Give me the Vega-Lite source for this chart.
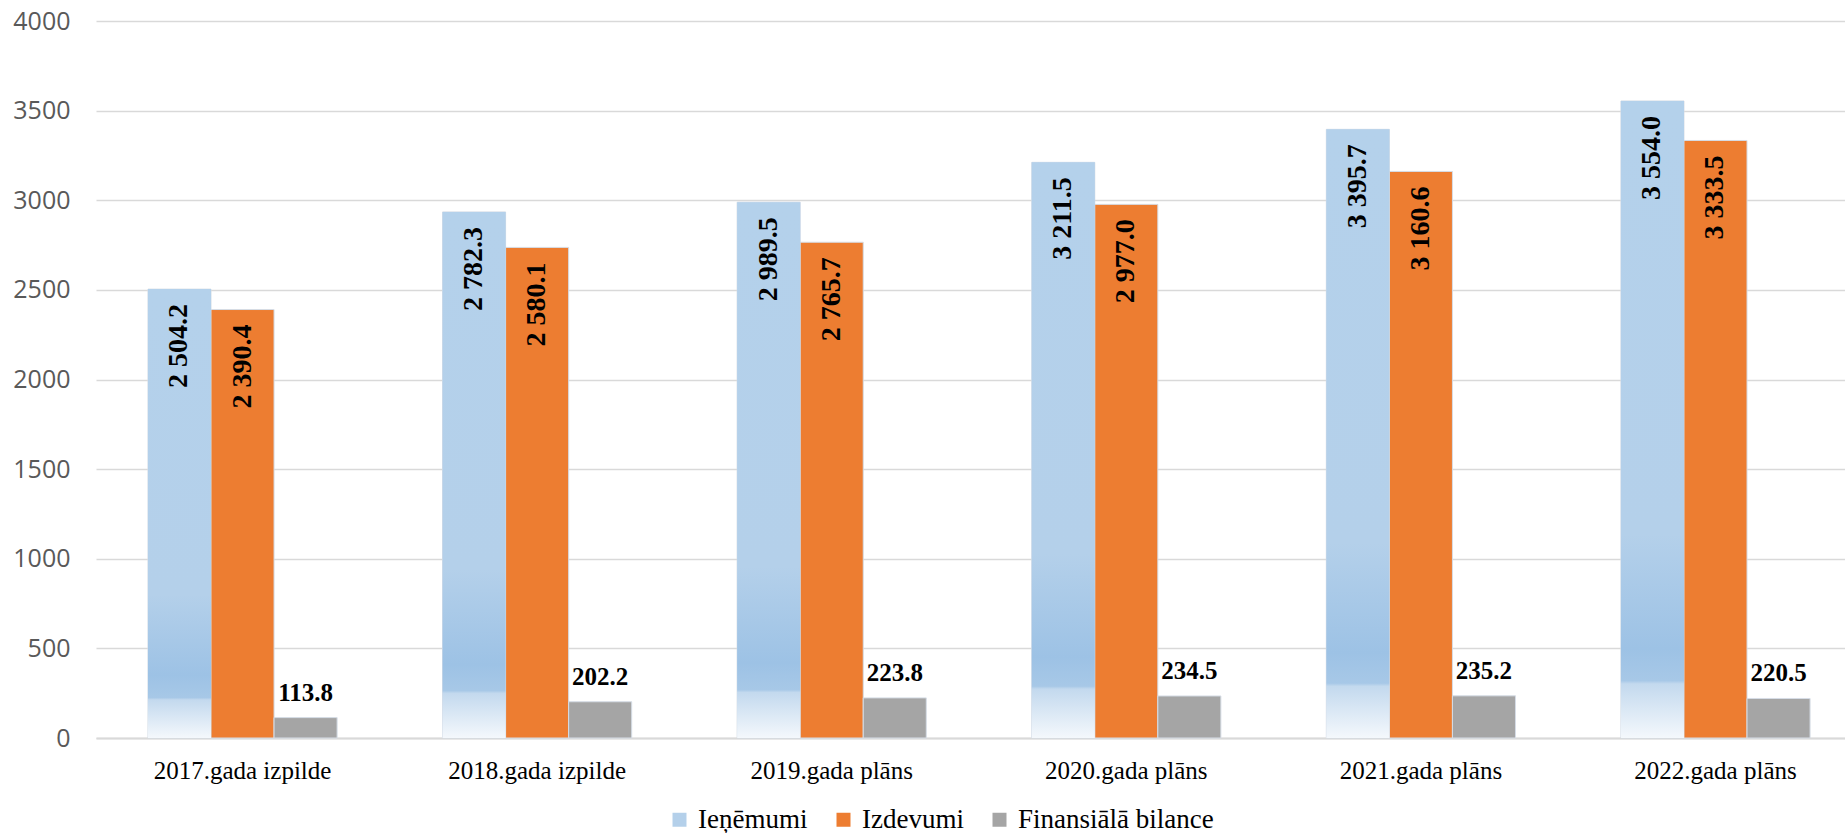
{
  "$schema": "https://vega.github.io/schema/vega-lite/v6.json",
  "autosize": {"type": "none"},
  "padding": {"left": 96, "top": 21, "right": 0, "bottom": 95},
  "width": 1749,
  "height": 717,
  "background": "white",
  "config": {
    "font": "Liberation Serif",
    "view": {"stroke": null},
    "legend": {"labelFont": "Liberation Serif", "labelFontSize": 27, "labelColor": "#000000", "labelLimit": 0}
  },
  "data": {
    "values": [
      {"gads": "2017.gada izpilde", "series": "Ieņēmumi", "value": 2504.2, "label": "2 504.2"},
      {"gads": "2017.gada izpilde", "series": "Izdevumi", "value": 2390.4, "label": "2 390.4"},
      {"gads": "2017.gada izpilde", "series": "Finansiālā bilance", "value": 113.8, "label": "113.8"},
      {"gads": "2018.gada izpilde", "series": "Ieņēmumi", "value": 2935, "label": "2 782.3"},
      {"gads": "2018.gada izpilde", "series": "Izdevumi", "value": 2737, "label": "2 580.1"},
      {"gads": "2018.gada izpilde", "series": "Finansiālā bilance", "value": 202.2, "label": "202.2"},
      {"gads": "2019.gada plāns", "series": "Ieņēmumi", "value": 2989.5, "label": "2 989.5"},
      {"gads": "2019.gada plāns", "series": "Izdevumi", "value": 2765.7, "label": "2 765.7"},
      {"gads": "2019.gada plāns", "series": "Finansiālā bilance", "value": 223.8, "label": "223.8"},
      {"gads": "2020.gada plāns", "series": "Ieņēmumi", "value": 3211.5, "label": "3 211.5"},
      {"gads": "2020.gada plāns", "series": "Izdevumi", "value": 2977.0, "label": "2 977.0"},
      {"gads": "2020.gada plāns", "series": "Finansiālā bilance", "value": 234.5, "label": "234.5"},
      {"gads": "2021.gada plāns", "series": "Ieņēmumi", "value": 3395.7, "label": "3 395.7"},
      {"gads": "2021.gada plāns", "series": "Izdevumi", "value": 3160.6, "label": "3 160.6"},
      {"gads": "2021.gada plāns", "series": "Finansiālā bilance", "value": 235.2, "label": "235.2"},
      {"gads": "2022.gada plāns", "series": "Ieņēmumi", "value": 3554.0, "label": "3 554.0"},
      {"gads": "2022.gada plāns", "series": "Izdevumi", "value": 3333.5, "label": "3 333.5"},
      {"gads": "2022.gada plāns", "series": "Finansiālā bilance", "value": 220.5, "label": "220.5"}
    ]
  },
  "encoding": {
    "x": {
      "field": "gads",
      "type": "nominal",
      "sort": null,
      "scale": {"paddingInner": 0.358, "paddingOuter": 0.1475, "align": 0.598},
      "axis": {
        "title": null,
        "labelAngle": 0,
        "labelFont": "Liberation Serif",
        "labelFontSize": 25,
        "labelColor": "#000000",
        "labelPadding": 20,
        "ticks": false,
        "tickSize": 0,
        "domain": true,
        "domainColor": "#d9d9d9",
        "domainWidth": 2,
        "grid": false
      }
    },
    "xOffset": {
      "field": "series",
      "type": "nominal",
      "sort": ["Ieņēmumi", "Izdevumi", "Finansiālā bilance"],
      "scale": {"paddingInner": 0, "paddingOuter": 0}
    },
    "y": {
      "field": "value",
      "type": "quantitative",
      "scale": {"domain": [0, 4000], "nice": false},
      "axis": {
        "title": null,
        "values": [0, 500, 1000, 1500, 2000, 2500, 3000, 3500, 4000],
        "format": "d",
        "labelFont": "Open Sans",
        "labelFontSize": 25,
        "labelColor": "#595959",
        "labelPadding": 26,
        "ticks": false,
        "tickSize": 0,
        "domain": false,
        "grid": true,
        "gridColor": "#d9d9d9",
        "gridWidth": 1.5
      }
    }
  },
  "layer": [
    {
      "mark": {"type": "bar", "stroke": "#d6dde6", "strokeWidth": 1},
      "encoding": {
        "color": {
          "field": "series",
          "type": "nominal",
          "sort": ["Ieņēmumi", "Izdevumi", "Finansiālā bilance"],
          "scale": {
            "domain": ["Ieņēmumi", "Izdevumi", "Finansiālā bilance"],
            "range": ["#b4d0ea", "#ed7d31", "#a5a5a5"]
          },
          "legend": {
            "title": null,
            "orient": "none",
            "direction": "horizontal",
            "legendX": 570,
            "legendY": 785,
            "symbolType": "square",
            "symbolSize": 196,
            "symbolStrokeWidth": 0,
            "labelFont": "Liberation Serif",
            "labelFontSize": 27,
            "labelColor": "#000000",
            "labelLimit": 0,
            "labelOffset": 5,
            "columnPadding": 22,
            "padding": 0
          }
        }
      }
    },
    {
      "transform": [{"filter": "datum.series === 'Ieņēmumi'"}],
      "mark": {
        "type": "bar",
        "color": {
          "gradient": "linear",
          "x1": 0, "y1": 1, "x2": 0, "y2": 0,
          "stops": [
            {"offset": 0, "color": "#f4f8fc"},
            {"offset": 0.085, "color": "#c3d9ee"},
            {"offset": 0.09, "color": "#a7c8e7"},
            {"offset": 0.14, "color": "#9dc2e5"},
            {"offset": 0.32, "color": "#b4d0ea"},
            {"offset": 1, "color": "#b4d1eb"}
          ]
        }
      },
      "encoding": {}
    },
    {
      "transform": [{"filter": "datum.series !== 'Finansiālā bilance'"}],
      "mark": {
        "type": "text",
        "angle": 270,
        "align": "right",
        "baseline": "middle",
        "dx": -15,
        "font": "Liberation Serif",
        "fontWeight": "bold",
        "fontSize": 28,
        "color": "#000000"
      },
      "encoding": {"text": {"field": "label"}}
    },
    {
      "transform": [{"filter": "datum.series === 'Finansiālā bilance'"}],
      "mark": {
        "type": "text",
        "align": "center",
        "baseline": "alphabetic",
        "dy": -17,
        "font": "Liberation Serif",
        "fontWeight": "bold",
        "fontSize": 25,
        "color": "#000000"
      },
      "encoding": {"text": {"field": "label"}}
    }
  ]
}
